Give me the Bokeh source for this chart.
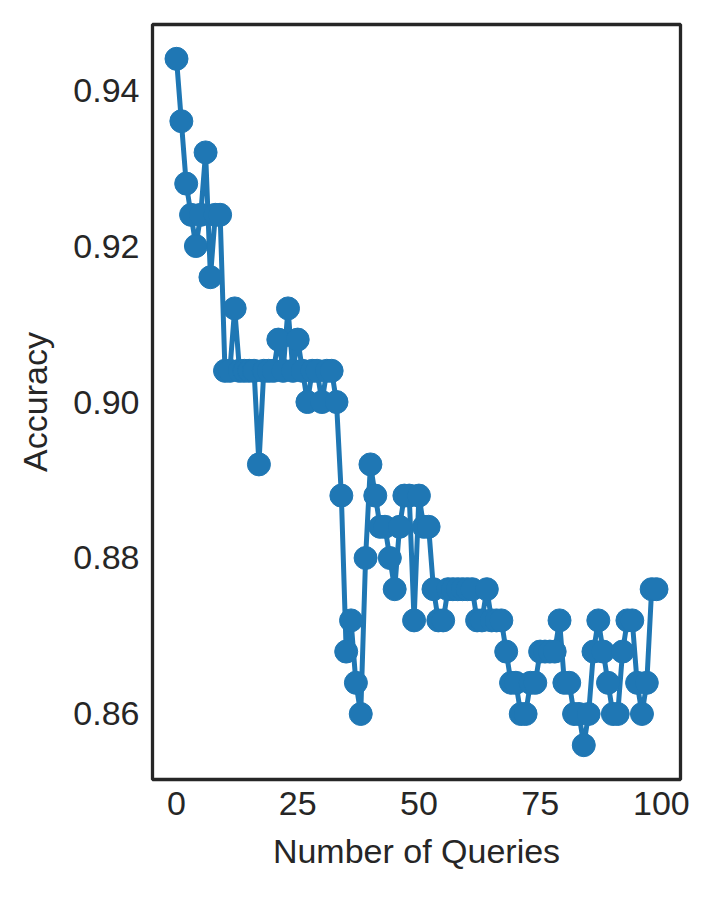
from bokeh.plotting import figure
from bokeh.models import FixedTicker, Range1d, CustomJSTickFormatter
from bokeh.embed import file_html
from bokeh.resources import INLINE

queries = list(range(100))
accuracy = [
    0.944, 0.936, 0.928, 0.924, 0.920, 0.924, 0.932, 0.916, 0.924, 0.924,
    0.904, 0.904, 0.912, 0.904, 0.904, 0.904, 0.904, 0.892, 0.904, 0.904,
    0.904, 0.908, 0.904, 0.912, 0.904, 0.908, 0.904, 0.900, 0.904, 0.904,
    0.900, 0.904, 0.904, 0.900, 0.888, 0.868, 0.872, 0.864, 0.860, 0.880,
    0.892, 0.888, 0.884, 0.884, 0.880, 0.876, 0.884, 0.888, 0.888, 0.872,
    0.888, 0.884, 0.884, 0.876, 0.872, 0.872, 0.876, 0.876, 0.876, 0.876,
    0.876, 0.876, 0.872, 0.872, 0.876, 0.872, 0.872, 0.872, 0.868, 0.864,
    0.864, 0.860, 0.860, 0.864, 0.864, 0.868, 0.868, 0.868, 0.868, 0.872,
    0.864, 0.864, 0.860, 0.860, 0.856, 0.860, 0.868, 0.872, 0.868, 0.864,
    0.860, 0.860, 0.868, 0.872, 0.872, 0.864, 0.860, 0.864, 0.876, 0.876,
]
x_ticks = [0, 25, 50, 75, 100]
y_ticks = [0.86, 0.88, 0.90, 0.92, 0.94]

FONT = "Liberation Sans"
TXT = "#262626"
BLUE = "#1f77b4"

p = figure(width=714, height=897, output_backend="svg", toolbar_location=None,
           x_range=Range1d(-4.95, 103.95), y_range=Range1d(0.8516, 0.9484),
           min_border_left=152, min_border_right=34, min_border_top=24,
           min_border_bottom=118)

p.line(queries, accuracy, line_color=BLUE, line_width=5)
p.scatter(queries, accuracy, size=23, fill_color=BLUE, line_color=BLUE)

p.xgrid.visible = False
p.ygrid.visible = False
p.outline_line_color = TXT
p.outline_line_width = 3.3
p.background_fill_color = "white"
p.border_fill_color = "white"

p.xaxis.ticker = FixedTicker(ticks=x_ticks)
p.yaxis.ticker = FixedTicker(ticks=y_ticks)
p.yaxis.formatter = CustomJSTickFormatter(code="return tick.toFixed(2);")

for ax in (p.xaxis[0], p.yaxis[0]):
    ax.axis_line_color = None
    ax.major_tick_line_color = None
    ax.minor_tick_line_color = None
    ax.major_tick_out = 0
    ax.major_tick_in = 0
    ax.minor_tick_out = 0
    ax.major_label_text_font = FONT
    ax.major_label_text_font_size = "34px"
    ax.major_label_text_color = TXT
    ax.axis_label_text_font = FONT
    ax.axis_label_text_font_size = "34px"
    ax.axis_label_text_color = TXT
    ax.axis_label_text_font_style = "normal"

p.xaxis.axis_label = "Number of Queries"
p.yaxis.axis_label = "Accuracy"
p.xaxis.major_label_standoff = 12
p.yaxis.major_label_standoff = 13
p.xaxis.axis_label_standoff = 14
p.yaxis.axis_label_standoff = 16

open("out.html", "w").write(file_html(p, INLINE))
